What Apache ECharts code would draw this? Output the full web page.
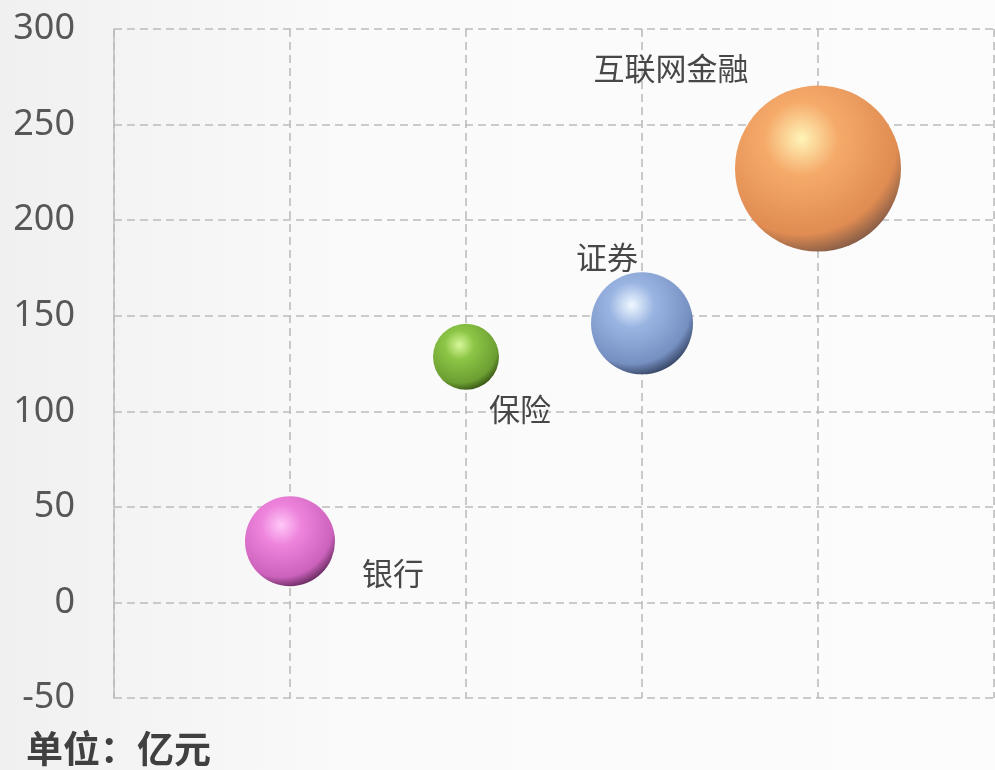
<!DOCTYPE html>
<html>
<head>
<meta charset="utf-8">
<script src="https://cdn.jsdelivr.net/npm/echarts@6/dist/echarts.min.js"></script>
<style>
html,body{margin:0;padding:0;background:#f7f7f7;}
#c{width:995px;height:770px;}
</style>
</head>
<body>
<div id="c"></div>
<script>
// ---- data ----
var names = ['银行', '保险', '证券', '互联网金融'];
var xValues = [1, 2, 3, 4];
var yValues = [32, 128.5, 146, 227];
var bubbleValues = [45, 33, 51, 83];
var yTicks = [-50, 0, 50, 100, 150, 200, 250, 300];
var unitText = '单位：亿元';

// ---- styles ----
var palettes = [
  ['#ffc8f8', '#ee84dc', '#cc62bc', '#4e1c48'],
  ['#d8f79a', '#8cc646', '#6c9e32', '#2a420e'],
  ['#eef8ff', '#9ab4e2', '#7690c2', '#26324c'],
  ['#fff4b8', '#f5aa6a', '#e08c52', '#6e5044']
];
var labelOffsets = [[103, 32], [54, 52], [-35, -66], [-147, -100]];

function sphere(p) {
  return {
    type: 'radial', x: 0.4, y: 0.32, r: 0.74,
    colorStops: [
      {offset: 0, color: p[0]},
      {offset: 0.3, color: p[1]},
      {offset: 0.78, color: p[2]},
      {offset: 1, color: p[3]}
    ]
  };
}

var seriesData = names.map(function (n, i) {
  return {
    name: n,
    value: [xValues[i], yValues[i], bubbleValues[i]],
    itemStyle: {color: sphere(palettes[i])},
    label: {offset: labelOffsets[i]}
  };
});

var chart = echarts.init(document.getElementById('c'), null, {renderer: 'canvas'});
chart.setOption({
  backgroundColor: {
    type: 'linear', x: 0, y: 0, x2: 1, y2: 0,
    colorStops: [{offset: 0, color: '#f0f0f0'}, {offset: 0.35, color: '#fafafa'}, {offset: 1, color: '#fcfcfc'}]
  },
  animation: false,
  grid: {left: 114, right: 1, top: 29, bottom: 72, containLabel: false},
  xAxis: {
    type: 'value', min: 0, max: 5, interval: 1,
    axisLine: {show: false}, axisTick: {show: false}, axisLabel: {show: false},
    splitLine: {show: true, lineStyle: {color: '#bcbcbc', type: [8, 5], width: 1.6}}
  },
  yAxis: {
    type: 'value', min: yTicks[0], max: yTicks[yTicks.length - 1], interval: 50,
    axisLine: {show: true, lineStyle: {color: '#bdbdbd', width: 1.5}},
    axisTick: {show: false},
    axisLabel: {color: '#575757', fontSize: 36, fontFamily: 'Noto Sans', margin: 39},
    splitLine: {show: true, lineStyle: {color: '#bcbcbc', type: [8, 5], width: 1.6}}
  },
  series: [{
    type: 'scatter',
    data: seriesData,
    symbolSize: function (v) { return v[2] * 2; },
    itemStyle: {opacity: 1},
    label: {
      show: true, position: 'inside',
      formatter: function (p) { return p.name; },
      color: '#474747', fontSize: 31, fontFamily: 'Noto Sans CJK SC'
    }
  }],
  graphic: [{
    type: 'text', left: 26, top: 730,
    style: {text: unitText, fontSize: 37, fontWeight: 'bold', fill: '#404040', fontFamily: 'Noto Sans CJK SC'}
  }]
});
</script>
</body>
</html>
